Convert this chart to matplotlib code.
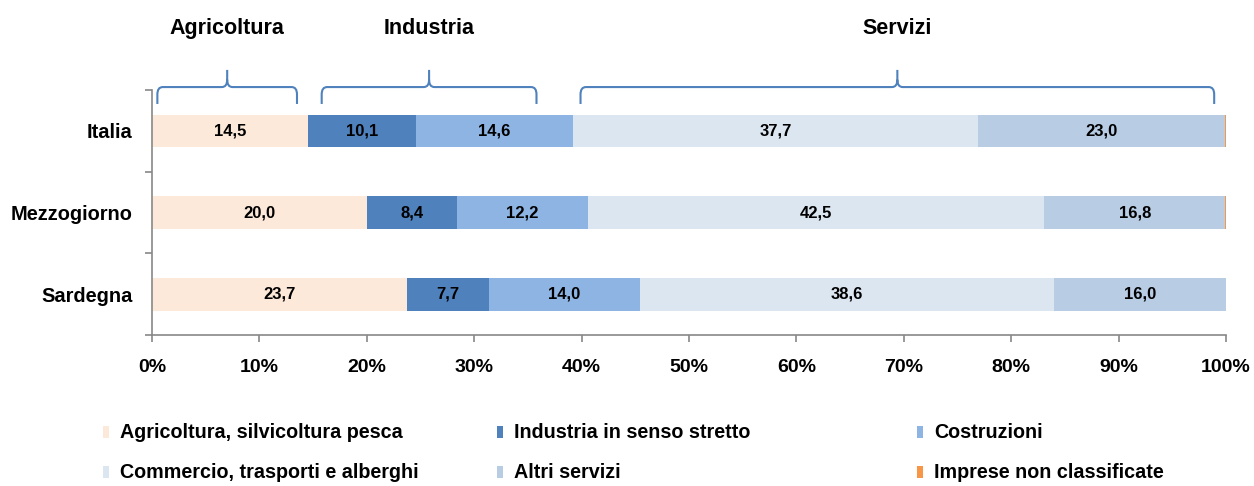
import matplotlib
matplotlib.use("Agg")
import matplotlib.pyplot as plt
import numpy as np
from matplotlib.path import Path
from matplotlib.patches import PathPatch, Rectangle
from matplotlib.transforms import blended_transform_factory

plt.rcParams['font.family'] = ['Liberation Sans Narrow', 'Liberation Sans', 'DejaVu Sans']
plt.rcParams['font.weight'] = 'bold'

territori = ['Italia', 'Mezzogiorno', 'Sardegna']
settori = ['Agricoltura, silvicoltura pesca', 'Industria in senso stretto', 'Costruzioni',
           'Commercio, trasporti e alberghi', 'Altri servizi', 'Imprese non classificate']
agricoltura = [14.5, 20.0, 23.7]
industria = [10.1, 8.4, 7.7]
costruzioni = [14.6, 12.2, 14.0]
commercio = [37.7, 42.5, 38.6]
altri_servizi = [23.0, 16.8, 16.0]
non_classificate = [0.1, 0.1, 0.0]
colori = ['#FDE9D9', '#4F81BD', '#8DB4E2', '#DCE6F1', '#B8CCE4', '#F79646']

gruppi = ['Agricoltura', 'Industria', 'Servizi']

serie = [agricoltura, industria, costruzioni, commercio, altri_servizi, non_classificate]

fig = plt.figure(figsize=(12.54, 4.86), dpi=100)
ax = fig.add_axes([152/1254, 1-335/486, (1226-152)/1254, (335-90)/486])

y = np.arange(len(territori))
left = np.zeros(len(territori))
for vals, col, nome in zip(serie, colori, settori):
    vals = np.array(vals)
    ax.barh(y, vals, left=left, height=0.4, color=col, label=nome)
    if nome != 'Imprese non classificate':
        for yi, l, v in zip(y, left, vals):
            ax.text(l + v/2, yi, f'{v:.1f}'.replace('.', ','), ha='center', va='center',
                    fontsize=12, fontweight='bold', color='black')
    left = left + vals

ax.set_xlim(0, 100)
ax.set_ylim(len(territori) - 0.5, -0.5)
ax.set_xticks(np.arange(0, 101, 10))
ax.set_xticklabels([f'{t}%' for t in range(0, 101, 10)], fontsize=14, fontweight='bold')
ax.set_yticks(y)
ax.set_yticklabels(territori, fontsize=14.4, fontweight='bold')
ax.set_yticks(np.arange(-0.5, len(territori)), minor=True)
ax.tick_params(axis='y', which='major', length=0, pad=14)
ax.tick_params(axis='y', which='minor', length=5, color='#888888', width=1.2)
ax.tick_params(axis='x', length=5, color='#888888', width=1.2, pad=12)
for s in ['top', 'right']:
    ax.spines[s].set_visible(False)
for s in ['left', 'bottom']:
    ax.spines[s].set_color('#888888')
    ax.spines[s].set_linewidth(1.2)

# parentesi graffe sopra le barre
tr = blended_transform_factory(ax.transData, ax.transAxes)
parentesi = [(0.5, 13.5), (15.8, 35.8), (39.9, 98.9)]
yb, ym, yt = 0.943, 1.012, 1.082
rx, ry = 0.5, 0.03
for (x0, x1), nome in zip(parentesi, gruppi):
    xc = (x0 + x1) / 2
    verts = [(x0, yb), (x0, ym - ry), (x0, ym), (x0 + rx, ym), (xc - rx, ym), (xc, ym), (xc, ym + ry),
             (xc, yt), (xc, ym + ry), (xc, ym), (xc + rx, ym), (x1 - rx, ym), (x1, ym), (x1, ym - ry), (x1, yb)]
    codes = [Path.MOVETO, Path.LINETO, Path.CURVE3, Path.CURVE3, Path.LINETO, Path.CURVE3, Path.CURVE3,
             Path.LINETO, Path.MOVETO, Path.CURVE3, Path.CURVE3, Path.LINETO, Path.CURVE3, Path.CURVE3, Path.LINETO]
    ax.add_patch(PathPatch(Path(verts, codes), transform=tr, fill=False, edgecolor='#4F81BD',
                           linewidth=1.5, clip_on=False))
    ax.text(xc, 1.253, nome, transform=tr, ha='center', va='center', fontsize=15.5, fontweight='bold')

# legenda manuale 2 righe x 3 colonne
col_x = [103/1254, 497/1254, 917/1254]
row_y = [1-432/486, 1-472/486]
for i, (nome, col) in enumerate(zip(settori, colori)):
    r, c = divmod(i, 3)
    fig.patches.append(Rectangle((col_x[c], row_y[r] - 6/486), 6/1254, 12/486, transform=fig.transFigure,
                                 facecolor=col, edgecolor='none'))
    fig.text(col_x[c] + 17/1254, row_y[r], nome, ha='left', va='center', fontsize=14.2, fontweight='bold')

fig.savefig('out.png', dpi=100)
